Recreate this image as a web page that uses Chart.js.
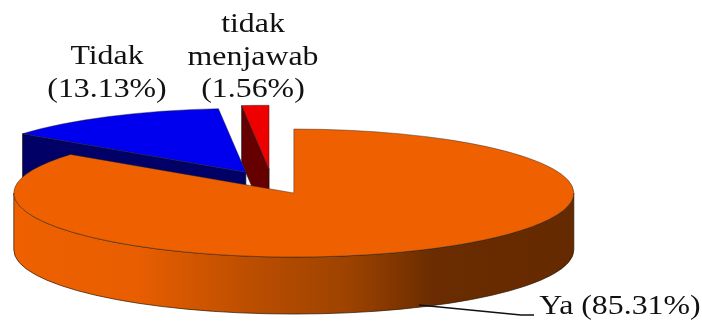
<!DOCTYPE html>
<html>
<head>
<meta charset="utf-8">
<title>Pie</title>
<script src="https://cdn.jsdelivr.net/npm/chart.js@4"></script>
<style>
    html, body { margin: 0; padding: 0; background: #fff; }
    canvas { display: block; }
</style>
</head>
<body>
<canvas id="pieChart" width="702" height="322"></canvas>
<script>
const categories = ["Ya", "Tidak", "tidak menjawab"];
const percentages = [85.31, 13.13, 1.56];
const topColors = ["#ee6000", "#0000ee", "#ee0000"];
const faceColors = ["#662a00", "#000066", "#660000"];

// how far each slice is pulled out of the pie, and where its text sits
const explode = [49, 53.5, 60];
const labelSpots = [[620, 314], [107, 64], [253, 32]];
const labelLines = [[categories[0] + " (85.31%)"], ["Tidak", "(13.13%)"], ["tidak", "menjawab", "(1.56%)"]];

const squash = 0.2286; // tilt of the pie
const depth = 57;      // height of the pie wall

function wallGradient(ctx, left, right) {
    const g = ctx.createLinearGradient(left, 0, right, 0);
    g.addColorStop(0, "#ee6000");
    g.addColorStop(0.22, "#e85e00");
    g.addColorStop(0.33, "#d05500");
    g.addColorStop(0.42, "#bc4e00");
    g.addColorStop(0.6, "#9c4200");
    g.addColorStop(0.75, "#6a2c00");
    g.addColorStop(1, "#662a00");
    return g;
}

// screen position of a slice's tip after pulling it out
function sliceTip(arc, pull) {
    const mid = (arc.startAngle + arc.endAngle) / 2;
    return {
        x: arc.x + Math.cos(mid) * pull,
        y: arc.y + Math.sin(mid) * pull * squash
    };
}

function drawWall(ctx, arc, tip) {
    // only the part of the rim facing the viewer shows
    const from = Math.max(arc.startAngle, 0);
    const to = Math.min(arc.endAngle, Math.PI);
    if (to <= from) return;
    const r = arc.outerRadius;
    ctx.beginPath();
    ctx.ellipse(tip.x, tip.y, r, r * squash, 0, from, to);
    ctx.lineTo(tip.x + Math.cos(to) * r, tip.y + Math.sin(to) * r * squash + depth);
    ctx.ellipse(tip.x, tip.y + depth, r, r * squash, 0, to, from, true);
    ctx.closePath();
    ctx.fillStyle = wallGradient(ctx, tip.x - r, tip.x + r);
    ctx.fill();
    ctx.strokeStyle = "#2a1400";
    ctx.lineWidth = 0.7;
    ctx.stroke();
}

function drawCutFace(ctx, arc, tip, color) {
    if (Math.cos(arc.startAngle) >= 0) return;
    const r = arc.outerRadius;
    const ex = tip.x + Math.cos(arc.startAngle) * r;
    const ey = tip.y + Math.sin(arc.startAngle) * r * squash;
    ctx.beginPath();
    ctx.moveTo(ex, ey);
    ctx.lineTo(tip.x, tip.y);
    ctx.lineTo(tip.x, tip.y + depth);
    ctx.lineTo(ex, ey + depth);
    ctx.closePath();
    ctx.fillStyle = color;
    ctx.fill();
    ctx.strokeStyle = "#111";
    ctx.lineWidth = 0.7;
    ctx.stroke();
}

function drawTop(ctx, arc, tip) {
    ctx.save();
    ctx.translate(tip.x, tip.y);
    ctx.scale(1, squash);
    ctx.translate(-arc.x, -arc.y);
    arc.draw(ctx);
    ctx.restore();
}

const pie3d = {
    id: "pie3d",
    beforeDatasetDraw(chart, args) {
        const ctx = chart.ctx;
        const arcs = args.meta.data;
        // back slices first so the big one covers them
        for (let i = arcs.length - 1; i >= 0; i--) {
            const tip = sliceTip(arcs[i], explode[i]);
            drawWall(ctx, arcs[i], tip);
            drawCutFace(ctx, arcs[i], tip, faceColors[i]);
            drawTop(ctx, arcs[i], tip);
        }
        return false;
    },
    afterDraw(chart) {
        const ctx = chart.ctx;
        ctx.save();
        // leader line for the big slice
        ctx.beginPath();
        ctx.moveTo(419, 305);
        ctx.lineTo(521, 315);
        ctx.lineTo(534, 315);
        ctx.strokeStyle = "#111";
        ctx.lineWidth = 1.4;
        ctx.stroke();

        ctx.font = "27px 'Liberation Serif'";
        ctx.fillStyle = "#111";
        ctx.textAlign = "center";
        labelLines.forEach((lines, i) => {
            lines.forEach((line, n) => {
                ctx.save();
                ctx.translate(labelSpots[i][0], labelSpots[i][1] + n * 32.5);
                ctx.scale(1.18, 1);
                ctx.fillText(line, 0, 0);
                ctx.restore();
            });
        });
        ctx.restore();
    }
};

const pieChart = new Chart(document.getElementById("pieChart"), {
    type: "pie",
    data: {
        labels: categories,
        datasets: [{
            data: percentages,
            backgroundColor: topColors,
            borderColor: "#222",
            borderWidth: 0.7
        }]
    },
    options: {
        responsive: false,
        animation: false,
        radius: 280,
        layout: { padding: { top: 44, right: 158 } },
        plugins: {
            legend: { display: false },
            tooltip: { enabled: false }
        }
    },
    plugins: [pie3d]
});
</script>
</body>
</html>
